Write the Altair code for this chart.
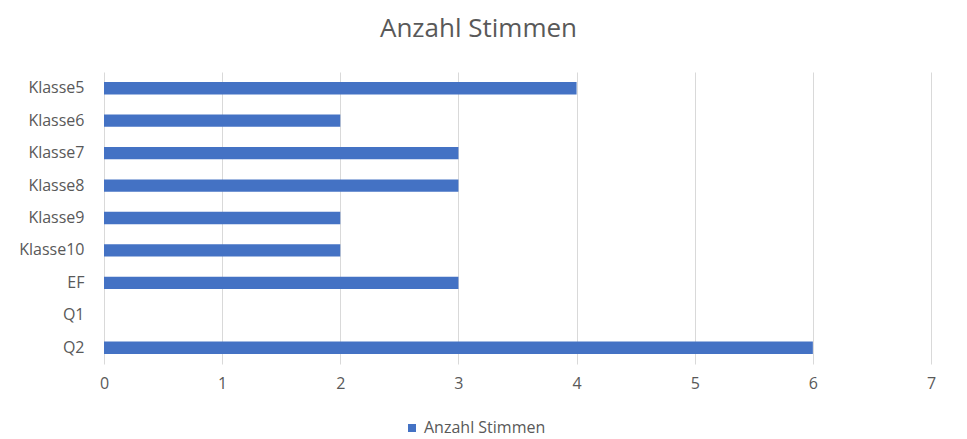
import altair as alt
import pandas as pd

categories = ["Klasse5", "Klasse6", "Klasse7", "Klasse8", "Klasse9", "Klasse10", "EF", "Q1", "Q2"]
values = [4, 2, 3, 3, 2, 2, 3, 0, 6]
series = ["Anzahl Stimmen"] * len(categories)
x_ticks = [0, 1, 2, 3, 4, 5, 6, 7]

df = pd.DataFrame({"Kategorie": categories, "Wert": values, "Serie": series})

font = "Open Sans"
grey = "#595959"

chart = (
    alt.Chart(df)
    .mark_bar(color="#4472C4")
    .encode(
        y=alt.Y(
            "Kategorie:N",
            sort=categories,
            scale=alt.Scale(paddingInner=0.62, paddingOuter=0.31),
            axis=alt.Axis(
                title=None, domain=False, ticks=False, grid=False,
                labelPadding=20, labelFontSize=16, labelColor=grey, labelFont=font,
            ),
        ),
        x=alt.X(
            "Wert:Q",
            scale=alt.Scale(domain=[0, 7], nice=False),
            axis=alt.Axis(
                title=None, domain=False, ticks=False, values=x_ticks,
                grid=True, gridColor="#d9d9d9", gridWidth=1,
                labelPadding=11, labelFontSize=16, labelColor=grey, labelFont=font,
                labelFlush=False, format="d",
            ),
        ),
        color=alt.Color(
            "Serie:N",
            scale=alt.Scale(range=["#4472C4"]),
            legend=alt.Legend(
                title=None, orient="none", legendX=300, legendY=348,
                symbolType="square", symbolSize=64, labelFontSize=16,
                labelColor=grey, labelFont=font,
            ),
        ),
    )
    .properties(
        width=827,
        height=292,
        title=alt.Title(
            "Anzahl Stimmen", fontSize=26, color=grey, font=font, fontWeight="normal",
            anchor="middle", dx=-39, offset=30,
        ),
        autosize=alt.AutoSizeParams(type="none"),
        padding={"left": 96, "top": 64, "right": 28, "bottom": 75},
    )
    .configure_view(stroke=None)
)

chart.save("out.html", embed_options={"renderer": "svg", "actions": False})
